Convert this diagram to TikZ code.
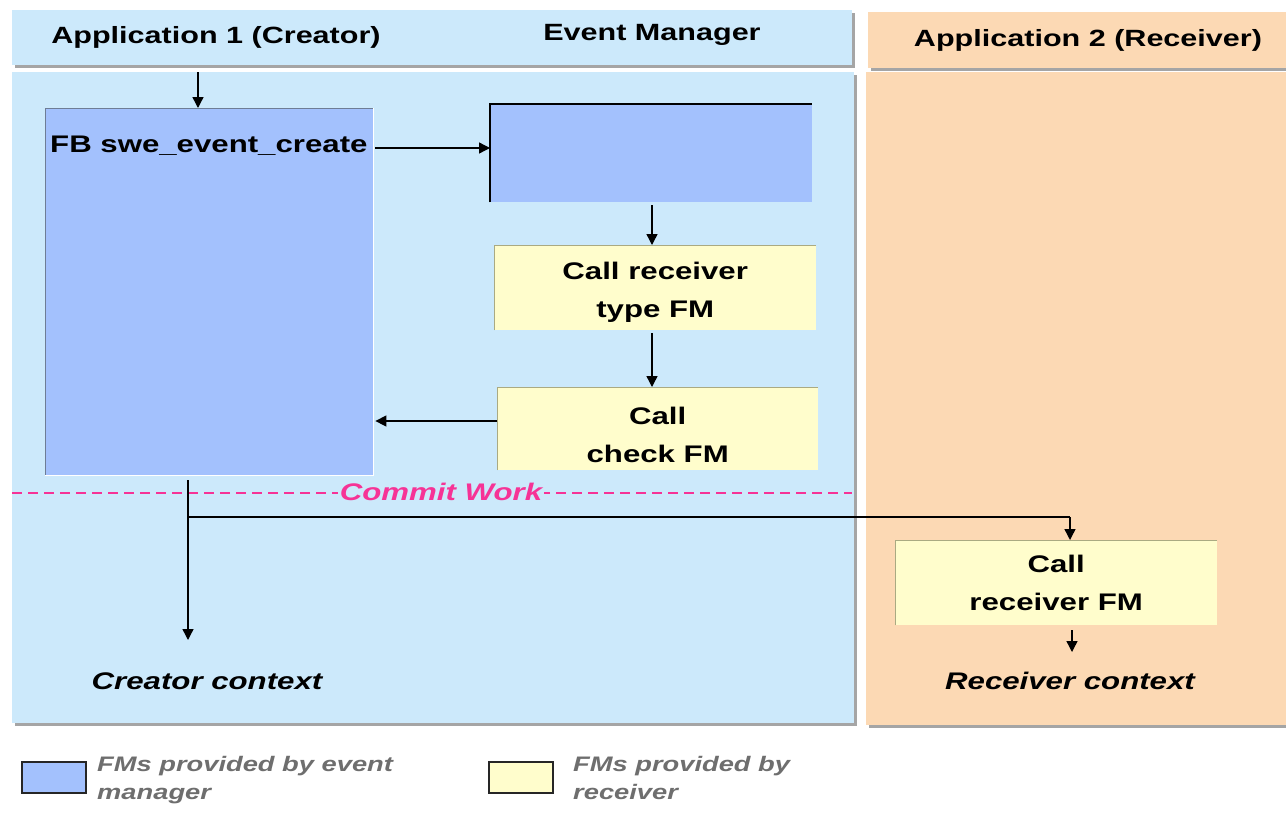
\documentclass[tikz,border=0pt]{standalone}
\usepackage{fontspec}
\setmainfont[FakeStretch=1.3]{Liberation Sans}
\usetikzlibrary{arrows.meta,calc}

\definecolor{lanebg}{RGB}{204,233,251}
\definecolor{recvbg}{RGB}{252,217,180}
\definecolor{emblue}{RGB}{163,193,253}
\definecolor{rcvyellow}{RGB}{255,253,204}
\definecolor{commitpink}{RGB}{246,51,150}
\definecolor{shadowgray}{RGB}{165,165,165}
\definecolor{legendgray}{RGB}{110,110,110}
\definecolor{edgeblue}{RGB}{110,125,150}
\definecolor{edgeolive}{RGB}{170,170,130}

\tikzset{
  fmbox/.style={fill=#1, draw=none, inner sep=0pt, anchor=north west, align=center,
                font=\fontsize{24}{38}\selectfont\bfseries},
  arr/.style={line width=1.4pt, -{Triangle[length=11pt,width=11pt]}},
  plain/.style={line width=1.4pt},
  headtxt/.style={font=\fontsize{23.5}{26}\selectfont\bfseries},
  boxtxt/.style={font=\fontsize{24}{38}\selectfont\bfseries},
  ctxtxt/.style={font=\fontsize{24}{28}\selectfont\bfseries\itshape},
  legtxt/.style={font=\fontsize{21}{28}\selectfont\bfseries\itshape, text=legendgray, align=left, anchor=north west, inner sep=0pt},
  boxlabel/.style={label={[boxtxt, align=center, yshift=-#1]center:}},
}

\begin{document}
\begin{tikzpicture}[x=1pt, y=-1pt]
\useasboundingbox (0,0) rectangle (1286,812);
\fill[white] (0,0) rectangle (1286,812);

% lane panels with their drop shadows
\fill[shadowgray] (15,13) rectangle (855,68);
\fill[lanebg] (12,10) rectangle (852,65);
\fill[shadowgray] (871,15) rectangle (1290,71);
\fill[recvbg] (868,12) rectangle (1290,68);
\fill[shadowgray] (15,75) rectangle (857,726);
\fill[lanebg] (12,72) rectangle (854,723);
\fill[shadowgray] (869,75) rectangle (1290,728);
\fill[recvbg] (866,72) rectangle (1290,725);

% lane headings
\node[headtxt] (h1) at (216,37) {Application 1 (Creator)};
\node[headtxt] (h2) at (652,35) {Event Manager};
\node[headtxt] (h3) at (1088,40) {Application 2 (Receiver)};

% function modules
\node[fmbox=emblue, minimum width=328pt, minimum height=367pt] (fb) at (45,108) {};
\draw[edgeblue, line width=1pt] (fb.south west) -- (fb.north west) -- (fb.north east);
\draw[white, line width=1.5pt] (fb.north east) -- (fb.south east) -- (fb.south west);
\node[boxtxt, anchor=west, inner sep=0pt] (fbt) at (50,146) {FB swe\_event\_create};

\node[fmbox=emblue, minimum width=322pt, minimum height=98pt] (em) at (490,104) {};
\draw[black, line width=1.5pt] (em.south west) -- (em.north west) -- (em.north east);

\node[fmbox=rcvyellow, minimum width=322pt, minimum height=85pt] (y1) at (494,245) {};
\node[boxtxt, align=center, inner sep=0pt] (y1t) at ($(y1.center)+(0,5)$) {Call receiver\\type FM};
\draw[edgeolive, line width=1pt] (y1.south west) -- (y1.north west) -- (y1.north east);

\node[fmbox=rcvyellow, minimum width=321pt, minimum height=83pt] (y2) at (497,387) {};
\node[boxtxt, align=center, inner sep=0pt] (y2t) at ($(y2.center)+(0,6)$) {Call\\check FM};
\draw[edgeolive, line width=1pt] (y2.south west) -- (y2.north west) -- (y2.north east);

\node[fmbox=rcvyellow, minimum width=322pt, minimum height=85pt] (y3) at (895,540) {Call\\receiver FM};
\draw[edgeolive, line width=1pt] (y3.south west) -- (y3.north west) -- (y3.north east);

% commit boundary
\draw[commitpink, line width=1.5pt, dash pattern=on 10pt off 6pt] (12,493) -- (852,493);
\node[fill=lanebg, inner sep=2pt, text=commitpink, ctxtxt] (cw) at (441,492) {Commit Work};

% context labels
\node[ctxtxt] (cc) at (207,681) {Creator context};
\node[ctxtxt] (rc) at (1070,681) {Receiver context};

% flow connectors
\coordinate (start) at (198,72);
\draw[arr] (start) -- (start |- fb.north);
\draw[arr] ($(fb.north east)+(2,40)$) -- (em.west |- {$(fb.north east)+(2,40)$});
\draw[arr] (em.south -| 652,0) ++(0,3) -- (652,245);
\draw[arr] (652,333) -- (y2.north -| 652,0);
\draw[arr] (y2.west |- 0,421) -- ($(fb.east |- 0,421)+(2,0)$);

\coordinate (split) at (188,517);
\coordinate (commitout) at (188,480);
\coordinate (turn) at (1070,517);
\draw[plain] (commitout) -- (split);
\draw[arr] (split) -- (188,640);
\draw[plain] (split) -- (turn);
\draw[arr] (turn) -- (turn |- y3.north);
\draw[arr] ($(y3.south -| 1072,0)+(0,5)$) -- (1072,652);

% legend
\node[fmbox=emblue, draw=black!85, line width=1.5pt, minimum width=64pt, minimum height=31pt] (lg1) at (21,761) {};
\node[legtxt] (lt1) at (97,756) {FMs provided by event\\manager};
\node[fmbox=rcvyellow, draw=black!85, line width=1.5pt, minimum width=64pt, minimum height=31pt] (lg2) at (488,761) {};
\node[legtxt] (lt2) at (573,756) {FMs provided by\\receiver};
\end{tikzpicture}
\end{document}
